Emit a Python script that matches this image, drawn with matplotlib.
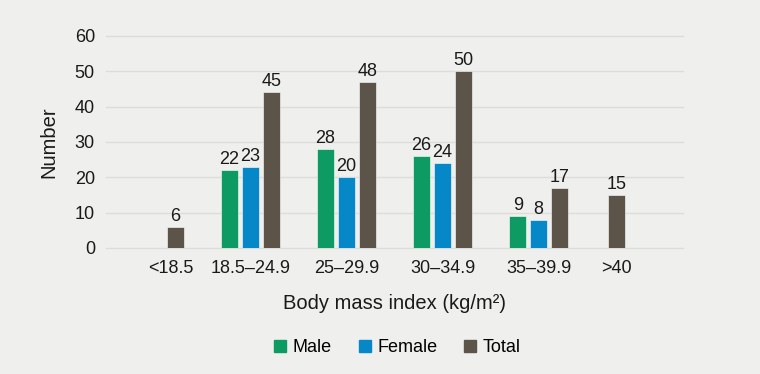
import numpy as np
import matplotlib.pyplot as plt
from matplotlib.lines import Line2D

# BMI categories and counts
categories = ["<18.5", "18.5\u201324.9", "25\u201329.9", "30\u201334.9", "35\u201339.9", ">40"]
male = [None, 22, 28, 26, 9, None]
female = [None, 23, 20, 24, 8, None]
total = [6, 44, 47, 50, 17, 15]
total_labels = ["6", "45", "48", "50", "17", "15"]

plt.rcParams['font.family'] = ['Liberation Sans', 'DejaVu Sans']

bg = "#efefed"
c_male = "#0e9b63"
c_female = "#0688c8"
c_total = "#5c5349"
txt = "#1a1a1a"

fig = plt.figure(figsize=(7.6, 3.74), dpi=100, facecolor=bg)
ax = fig.add_axes([0.1395, 0.337, 0.759, 0.567])
ax.set_facecolor(bg)

# tick positions; single-bar categories sit a bit inward
xpos = np.array([0.17, 1, 2, 3, 4, 4.81])
w = 0.173
off = 0.218
fs = 13

for i in range(len(categories)):
    if male[i] is None:
        tx = xpos[i] + (0.05 if i == 0 else 0)
    else:
        ax.bar(xpos[i] - off, male[i], w, color=c_male, edgecolor="white", linewidth=0.4, zorder=3)
        ax.text(xpos[i] - off, male[i] + 0.6, str(male[i]), ha="center", va="bottom", fontsize=fs, color=txt)
        ax.bar(xpos[i], female[i], w, color=c_female, edgecolor="white", linewidth=0.4, zorder=3)
        ax.text(xpos[i], female[i] + 0.6, str(female[i]), ha="center", va="bottom", fontsize=fs, color=txt)
        tx = xpos[i] + off
    ax.bar(tx, total[i], w, color=c_total, edgecolor="white", linewidth=0.4, zorder=3)
    ax.text(tx, total[i] + 0.6, total_labels[i], ha="center", va="bottom", fontsize=fs, color=txt)

ax.set_xlim(-0.5, 5.5)
ax.set_ylim(0, 60)
ax.set_yticks(range(0, 61, 10))
ax.set_xticks(xpos)
ax.set_xticklabels(categories)
ax.tick_params(axis="both", length=0, labelsize=13, colors=txt)
ax.tick_params(axis="y", pad=8)
ax.tick_params(axis="x", pad=9)
ax.grid(axis="y", color="#dcdcda", linewidth=1, zorder=0, clip_on=False)
for s in ax.spines.values():
    s.set_visible(False)

ax.set_ylabel("Number", fontsize=14.5, color=txt, labelpad=12)
ax.set_xlabel("Body mass index (kg/m\u00b2)", fontsize=14.5, color=txt, labelpad=12)

handles = [Line2D([], [], marker="s", linestyle="", markersize=8, color=c) for c in (c_male, c_female, c_total)]
fig.legend(handles, ["Male", "Female", "Total"], loc="center", bbox_to_anchor=(0.522, 0.07),
           ncol=3, frameon=False, fontsize=13, handlelength=0.8, handletextpad=0.3, columnspacing=1.4)

fig.savefig("out.png", dpi=100, facecolor=bg)
